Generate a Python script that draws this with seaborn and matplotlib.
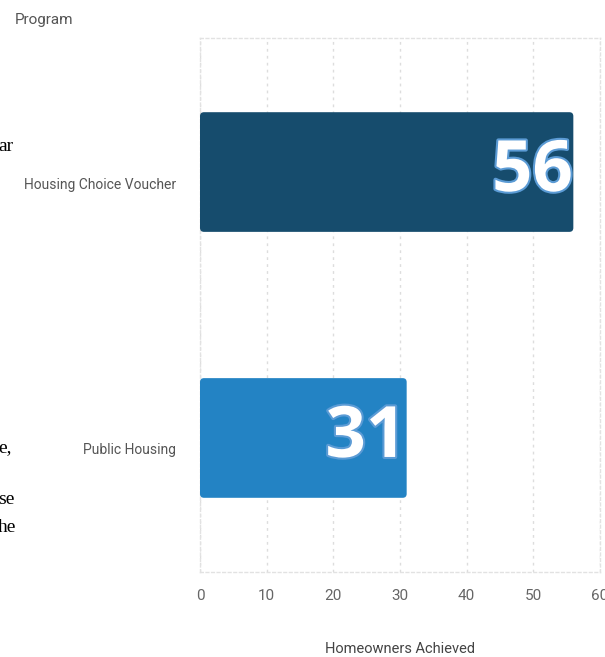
import matplotlib.pyplot as plt
import matplotlib.patheffects as pe
import matplotlib.transforms as mtransforms
from matplotlib.patches import FancyBboxPatch
import seaborn as sns
import pandas as pd

# --- data ---
programs = ["Housing Choice Voucher", "Public Housing"]
homeowners = [56, 31]
bar_colors = ["#164c6d", "#2383c4"]
x_ticks = [0, 10, 20, 30, 40, 50, 60]

df = pd.DataFrame({"Program": programs, "Homeowners Achieved": homeowners})

sns.set_theme(style="white")
plt.rcParams["font.family"] = ["Roboto", "DejaVu Sans"]

fig = plt.figure(figsize=(6.05, 6.57), dpi=100)
ax = fig.add_axes([200 / 605, 1 - 572 / 657, 400 / 605, (572 - 38) / 657])

sns.barplot(data=df, x="Homeowners Achieved", y="Program", hue="Program",
            palette=bar_colors, orient="h", width=0.45, saturation=1,
            legend=False, ax=ax)

ax.set_xlim(0, 60)
ax.set_ylim(1.504, -0.504)

# give the bars slightly rounded corners
for p in list(ax.patches):
    x0, y0, w, h = p.get_x(), p.get_y(), p.get_width(), p.get_height()
    rb = FancyBboxPatch((x0, y0), w, h,
                        boxstyle="round,pad=0,rounding_size=0.6",
                        mutation_aspect=0.025, facecolor=p.get_facecolor(),
                        edgecolor="none", zorder=3, clip_on=False)
    p.set_visible(False)
    ax.add_patch(rb)

ax.set_xticks(x_ticks)
ax.set_xticklabels([str(t) for t in x_ticks], color="#666666", fontsize=11)
ax.tick_params(axis="y", labelsize=10, labelcolor="#555555", length=0, pad=17)
ax.tick_params(axis="x", length=0, pad=12)
# tick labels sit a bit below bar centre in the original
shift = mtransforms.ScaledTranslation(0, -11 / 100, fig.dpi_scale_trans)
for lab in ax.get_yticklabels():
    lab.set_transform(lab.get_transform() + shift)
ax.grid(axis="x", color="#dddddd", linestyle=(0, (2, 3)), linewidth=1)
ax.set_axisbelow(True)
for s in ax.spines.values():
    s.set_color("#e2e2e2")
    s.set_linestyle((0, (2, 2)))
    s.set_linewidth(1)

ax.set_xlabel("Homeowners Achieved", fontsize=10.5, color="#444444", labelpad=28)
ax.set_ylabel("")
fig.text(15 / 605, 1 - 20 / 657, "Program", fontsize=11, color="#555555",
         ha="left", va="center")

# big value labels inside bar ends
for i, v in enumerate(homeowners):
    ax.text(v - 0.05, i, str(v), ha="right", va="center", fontsize=51,
            fontweight="bold", family="Open Sans", color="white", zorder=5,
            path_effects=[pe.withStroke(linewidth=3, foreground="#5b9bd5")])

# stray page text at left edge
for txt, y in [("ar", 147), ("e,", 448), ("se", 500), ("he", 527)]:
    fig.text(-2 / 605, 1 - y / 657, txt, fontsize=14, family="Liberation Serif",
             color="black", ha="left", va="center")

fig.savefig("out.png", dpi=100)
